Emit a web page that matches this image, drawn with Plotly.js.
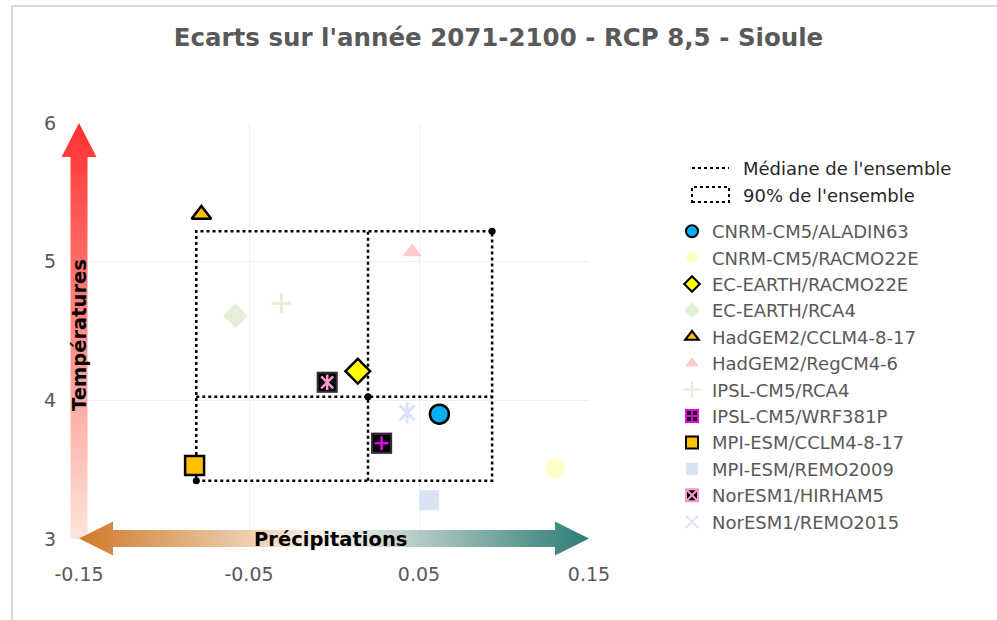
<!DOCTYPE html>
<html><head><meta charset="utf-8">
<script src="https://cdn.plot.ly/plotly-3.0.1.min.js"></script>
<style>html,body{margin:0;padding:0;background:#fff;} #chart{width:997px;height:620px;}</style>
</head><body><div id="chart"></div>
<script>
// ---------- DATA ----------
const models = ["CNRM-CM5/ALADIN63", "CNRM-CM5/RACMO22E", "EC-EARTH/RACMO22E", "EC-EARTH/RCA4",
  "HadGEM2/CCLM4-8-17", "HadGEM2/RegCM4-6", "IPSL-CM5/RCA4", "IPSL-CM5/WRF381P",
  "MPI-ESM/CCLM4-8-17", "MPI-ESM/REMO2009", "NorESM1/HIRHAM5", "NorESM1/REMO2015"];
const precipDelta = [0.062, 0.130, 0.014, -0.058, -0.078, 0.046, -0.031, 0.028, -0.082, 0.056, -0.004, 0.043];
const tempDelta   = [3.90, 3.51, 4.21, 4.61, 5.34, 5.07, 4.70, 3.69, 3.53, 3.28, 4.13, 3.91];
const medianPrecip = [0.020];
const medianTemp = [4.025];
const p90Precip = [-0.081, 0.093];
const p90Temp = [3.42, 5.22];
const xTickVals = [-0.15, -0.05, 0.05, 0.15];
const xTickText = ["-0.15", "-0.05", "0.05", "0.15"];
const yTickVals = [3, 4, 5, 6];
const yTickText = ["3", "4", "5", "6"];
const titleText = "Ecarts sur l'année 2071-2100 - RCP 8,5 - Sioule";
const xLabel = "Précipitations";
const yLabel = "Températures";
const medianLabel = "Médiane de l'ensemble";
const p90Label = "90% de l'ensemble";

// ---------- STYLES ----------
const FONT = "DejaVu Sans";
const GRAY = "#595959";
const styles = [
  {symbol: 'circle', color: '#00B0F0', line: '#000000', lw: 2.5, size: 19},
  {symbol: 'circle', color: '#FFFFC6', line: '#FFFFC6', lw: 0, size: 20},
  {symbol: 'diamond', color: '#FFFF00', line: '#000000', lw: 2.5, size: 19},
  {symbol: 'diamond', color: '#E2F0D9', line: '#E2F0D9', lw: 0, size: 19},
  {symbol: 'triangle-up', color: '#FFC000', line: '#000000', lw: 2.5, size: 17},
  {symbol: 'triangle-up', color: '#FFCACA', line: '#FFCACA', lw: 0, size: 17},
  {symbol: 'cross-thin-open', color: '#E2F0D9', line: '#E2F0D9', lw: 3, size: 14},
  {symbol: 'square-cross', color: '#000000', line: '#E600E6', lw: 2, size: 19,
    overlays: [{symbol: 'square', color: '#000000', line: '#303030', lw: 2, size: 19},
               {symbol: 'cross-thin-open', color: '#E600E6', line: '#E600E6', lw: 2.5, size: 10}]},
  {symbol: 'square', color: '#FFC000', line: '#000000', lw: 2.5, size: 19},
  {symbol: 'square', color: '#DAE3F3', line: '#DAE3F3', lw: 0, size: 20},
  {symbol: 'square-x', color: '#000000', line: '#F59BD0', lw: 2, size: 19,
    overlays: [{symbol: 'square', color: '#000000', line: '#303030', lw: 2, size: 19},
               {symbol: 'x-thin-open', color: '#F59BD0', line: '#F59BD0', lw: 2.5, size: 12},
               {symbol: 'line-ns-open', color: '#F59BD0', line: '#F59BD0', lw: 2.5, size: 11}]},
  {symbol: 'x-thin-open', color: '#DAE3F3', line: '#DAE3F3', lw: 3, size: 15,
    overlays: [{symbol: 'line-ns-open', color: '#DAE3F3', line: '#DAE3F3', lw: 3, size: 15}]}
];

// ---------- TRACES ----------
const traces = [];
// ensemble median cross
traces.push({
  type: 'scatter', mode: 'lines', name: medianLabel, showlegend: false,
  x: [medianPrecip[0], medianPrecip[0], null, p90Precip[0], p90Precip[1]],
  y: [p90Temp[0], p90Temp[1], null, medianTemp[0], medianTemp[0]],
  line: {color: '#000000', width: 2.5, dash: 'dot'}, hoverinfo: 'skip'
});
// ensemble 90% box
traces.push({
  type: 'scatter', mode: 'lines', name: p90Label, showlegend: false,
  x: [p90Precip[0], p90Precip[1], p90Precip[1], p90Precip[0], p90Precip[0]],
  y: [p90Temp[0], p90Temp[0], p90Temp[1], p90Temp[1], p90Temp[0]],
  line: {color: '#000000', width: 2.5, dash: 'dot'}, hoverinfo: 'skip'
});
traces.push({
  type: 'scatter', mode: 'markers', showlegend: false,
  x: [p90Precip[0], medianPrecip[0], p90Precip[1]],
  y: [p90Temp[0], medianTemp[0], p90Temp[1]],
  marker: {color: '#000000', size: 7}, hoverinfo: 'skip'
});
// legend-only entries for the ensemble (icons drawn as Excel-style shapes)
[medianLabel, p90Label].forEach((lab, k) => {
  traces.push({
    type: 'scatter', mode: 'lines', name: lab, legend: 'legend', legendrank: k + 1,
    x: [null], y: [null], line: {color: 'rgba(0,0,0,0)', width: 0}, hoverinfo: 'skip'
  });
});
models.forEach((m, i) => {
  const s = styles[i];
  traces.push({
    type: 'scatter', mode: 'markers', name: m, legend: 'legend2',
    x: [precipDelta[i]], y: [tempDelta[i]],
    marker: {symbol: s.symbol, color: s.color, size: s.size, line: {color: s.line, width: s.lw}}
  });
  (s.overlays || []).forEach(o => {
    traces.push({
      type: 'scatter', mode: 'markers', showlegend: false, legend: 'legend2',
      x: [precipDelta[i]], y: [tempDelta[i]],
      marker: {symbol: o.symbol, color: o.color, size: o.size, line: {color: o.line, width: o.lw}}
    });
  });
});

// ---------- GEOMETRY (pixel → paper) ----------
const W = 997, H = 620, L = 79, R = 589, T = 123, B = 539;
const px = v => (v - L) / (R - L);
const py = v => (B - v) / (B - T);

function svgURI(svg) { return 'data:image/svg+xml;charset=utf-8,' + encodeURIComponent(svg); }
const vArrow = svgURI(
  '<svg xmlns="http://www.w3.org/2000/svg" width="36" height="416" viewBox="0 0 36 416" preserveAspectRatio="none">' +
  '<defs><linearGradient id="g" x1="0" y1="0" x2="0" y2="1">' +
  '<stop offset="0" stop-color="#FF3030"/><stop offset="1" stop-color="#FCE6DC"/></linearGradient></defs>' +
  '<path d="M18,0 L35.5,34 L26.5,34 L26.5,416 L9.5,416 L9.5,34 L0.5,34 Z" fill="url(#g)"/></svg>');
const hArrow = svgURI(
  '<svg xmlns="http://www.w3.org/2000/svg" width="510" height="35" viewBox="0 0 510 35" preserveAspectRatio="none">' +
  '<defs><linearGradient id="g" x1="0" y1="0" x2="1" y2="0">' +
  '<stop offset="0" stop-color="#CF7A2A"/><stop offset="0.49" stop-color="#FBF4EE"/><stop offset="1" stop-color="#2C7B76"/></linearGradient></defs>' +
  '<path d="M0,17.5 L34,0.5 L34,9 L476,9 L476,0.5 L510,17.5 L476,34.5 L476,26 L34,26 L34,34.5 Z" fill="url(#g)"/></svg>');

const layout = {
  width: W, height: H,
  margin: {l: L, r: W - R, t: T, b: H - B, pad: 0},
  paper_bgcolor: '#ffffff', plot_bgcolor: '#ffffff',
  showlegend: true,
  title: {text: titleText, font: {family: FONT, size: 24.5, color: GRAY, weight: 'bold'},
    x: 0.5, xref: 'container', xanchor: 'center', y: 1 - 37 / H, yref: 'container', yanchor: 'middle'},
  xaxis: {range: [-0.15, 0.15], tickmode: 'array', tickvals: xTickVals, ticktext: xTickText,
    showgrid: true, gridcolor: '#EFEFEF', gridwidth: 1, zeroline: false, showline: false, ticks: '',
    tickfont: {family: FONT, size: 19, color: GRAY}, ticklabelstandoff: 22, fixedrange: true},
  yaxis: {range: [3, 6], tickmode: 'array', tickvals: yTickVals, ticktext: yTickText,
    showgrid: true, gridcolor: '#EFEFEF', gridwidth: 1, zeroline: false, showline: false, ticks: '',
    tickfont: {family: FONT, size: 19, color: GRAY}, ticklabelstandoff: 22, fixedrange: true},
  legend: {x: px(687), y: py(150), xanchor: 'left', yanchor: 'top', xref: 'paper', yref: 'paper',
    font: {family: FONT, size: 18, color: '#262626'}, bgcolor: 'rgba(0,0,0,0)', borderwidth: 0,
    itemwidth: 46, traceorder: 'normal'},
  legend2: {x: px(672), y: py(213), xanchor: 'left', yanchor: 'top', xref: 'paper', yref: 'paper',
    font: {family: FONT, size: 18, color: GRAY}, bgcolor: 'rgba(0,0,0,0)', borderwidth: 0,
    itemsizing: 'constant', traceorder: 'normal'},
  shapes: [
    // Excel-style legend icons for the ensemble entries
    {type: 'line', xref: 'paper', yref: 'paper', x0: px(692), x1: px(729), y0: py(168), y1: py(168),
      line: {color: '#000000', width: 2, dash: 'dot'}, layer: 'above'},
    {type: 'rect', xref: 'paper', yref: 'paper', x0: px(692), x1: px(729), y0: py(202), y1: py(187),
      line: {color: '#000000', width: 2, dash: 'dot'}, fillcolor: 'rgba(0,0,0,0)', layer: 'above'},
    // chart area border
    {type: 'line', xref: 'paper', yref: 'paper', x0: px(12), x1: px(12), y0: py(620), y1: py(6),
      line: {color: '#D9D9D9', width: 2}},
    {type: 'line', xref: 'paper', yref: 'paper', x0: px(12), x1: px(997), y0: py(6), y1: py(6),
      line: {color: '#D9D9D9', width: 2}}
  ],
  images: [
    {source: vArrow, xref: 'paper', yref: 'paper', x: px(61), y: py(123), sizex: 36 / (R - L), sizey: 1,
      xanchor: 'left', yanchor: 'top', sizing: 'stretch', layer: 'above'},
    {source: hArrow, xref: 'paper', yref: 'paper', x: px(79), y: py(521), sizex: 1, sizey: 35 / (B - T),
      xanchor: 'left', yanchor: 'top', sizing: 'stretch', layer: 'above'}
  ],
  annotations: [
    {text: xLabel, xref: 'paper', yref: 'paper', x: px(330), y: py(539), xanchor: 'center', yanchor: 'middle',
      showarrow: false, font: {family: FONT, size: 19.5, color: '#000000', weight: 'bold'}},
    {text: yLabel, xref: 'paper', yref: 'paper', x: px(79), y: py(335), xanchor: 'center', yanchor: 'middle',
      textangle: -90, showarrow: false, font: {family: FONT, size: 19.5, color: '#000000', weight: 'bold'}}
  ]
};

Plotly.newPlot('chart', traces, layout, {displayModeBar: false, staticPlot: true});
</script></body></html>
